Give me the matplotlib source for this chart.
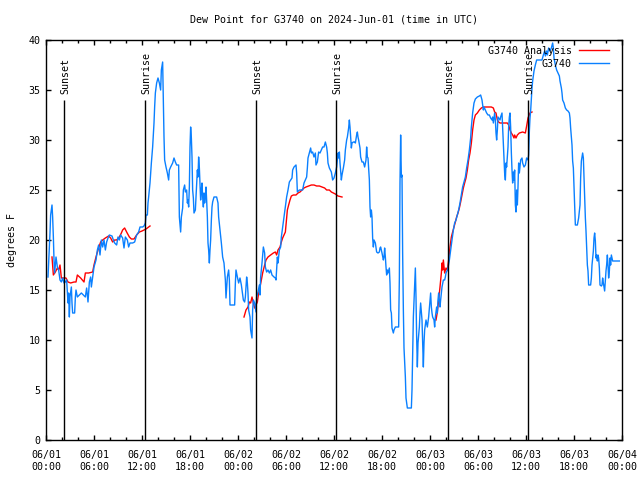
import matplotlib
matplotlib.use("Agg")
import matplotlib.pyplot as plt
import matplotlib.dates as mdates
import pandas as pd
import numpy as np

plt.rcParams['font.family'] = ['DejaVu Sans Mono']
FS = 7.2

base = pd.Timestamp("2024-06-01 00:00")

# G3740 observations: hours since 2024-06-01 00:00 UTC, dew point (F)
obs_hours = [
    0.25, 0.33, 0.5, 0.58, 0.75, 0.83, 0.92, 1.0, 1.08, 1.25, 1.42, 1.58, 1.75, 1.92, 2.08, 2.25, 2.42, 2.58,
    2.75, 2.83, 2.92, 3.0, 3.17, 3.25, 3.33, 3.58, 3.67, 3.75, 3.92, 4.17, 4.42, 4.67, 4.92, 5.08, 5.25, 5.42,
    5.58, 5.67, 5.83, 6.0, 6.25, 6.42, 6.58, 6.75, 6.92, 7.08, 7.25, 7.42, 7.58, 7.75, 7.92, 8.25, 8.42, 8.58,
    8.83, 9.0, 9.17, 9.33, 9.58, 9.75, 9.92, 10.17, 10.33, 10.5, 10.83, 11.08, 11.33, 11.58, 11.75, 12.08, 12.25,
    12.42, 12.5, 12.67, 12.75, 12.83, 13.0, 13.17, 13.33, 13.5, 13.58, 13.67, 13.83, 14.0, 14.17, 14.33, 14.42,
    14.58, 14.67, 14.75, 14.83, 15.0, 15.17, 15.33, 15.42, 15.58, 15.83, 16.0, 16.17, 16.33, 16.58, 16.67, 16.83,
    16.92, 17.08, 17.17, 17.33, 17.42, 17.58, 17.67, 17.75, 17.83, 17.92, 18.0, 18.08, 18.17, 18.25, 18.33, 18.42,
    18.5, 18.67, 18.75, 18.83, 18.92, 19.0, 19.08, 19.17, 19.25, 19.33, 19.42, 19.5, 19.58, 19.67, 19.75, 19.83,
    19.92, 20.0, 20.08, 20.17, 20.25, 20.33, 20.42, 20.5, 20.58, 20.67, 20.75, 20.83, 21.0, 21.33, 21.5, 21.58,
    21.75, 21.92, 22.08, 22.25, 22.42, 22.5, 22.67, 22.83, 22.92, 23.0, 23.58, 23.67, 23.75,
    23.92, 24.08, 24.25, 24.42, 24.5, 24.67, 24.83, 24.92, 25.08, 25.17, 25.25, 25.33, 25.5, 25.58, 25.75, 25.83,
    25.92, 26.08, 26.25, 26.33, 26.5, 26.67, 26.75, 26.83, 27.0, 27.17, 27.33, 27.42, 27.58, 27.75, 27.92, 28.08,
    28.25, 28.5, 28.67, 28.75, 28.92, 29.0, 29.17, 29.33, 29.42, 29.58, 29.75, 29.92, 30.08, 30.25, 30.42, 30.58,
    30.75, 30.83, 31.0, 31.25, 31.33, 31.42, 31.67, 31.92, 32.08, 32.25, 32.42, 32.58, 32.67, 32.75, 32.92, 33.08,
    33.17, 33.33, 33.5, 33.67, 33.75, 33.92, 34.08, 34.25, 34.42, 34.58, 34.75, 34.92, 35.08, 35.17, 35.25, 35.42,
    35.67, 35.83, 36.0, 36.17, 36.33, 36.42, 36.5, 36.58, 36.67, 36.75, 36.92, 37.0, 37.17, 37.33, 37.42, 37.58,
    37.67, 37.83, 37.92, 38.0, 38.08, 38.17, 38.25, 38.42, 38.58, 38.67, 38.83, 38.92, 39.0, 39.08, 39.25, 39.33,
    39.5, 39.67, 39.83, 40.0, 40.08, 40.17, 40.25, 40.42, 40.5, 40.58, 40.67, 40.75, 40.83, 40.92, 41.0, 41.17,
    41.33, 41.5, 41.67, 41.75, 41.83, 42.0, 42.17, 42.25, 42.33, 42.42, 42.5, 42.58, 42.67, 42.75, 42.92, 43.0,
    43.08, 43.17, 43.25, 43.42, 43.5, 43.67, 44.08, 44.17, 44.25, 44.33, 44.42, 44.5, 44.58, 44.67, 44.75, 44.92,
    45.0, 45.17, 45.67, 45.75, 45.83, 45.92, 46.08, 46.17, 46.25, 46.33, 46.42, 46.5, 46.67, 46.75, 46.83, 46.92,
    47.0, 47.08, 47.17, 47.25, 47.33, 47.5, 47.67, 47.83,
    48.0, 48.08, 48.17, 48.25, 48.33, 48.5, 48.58, 48.67, 48.83, 48.92, 49.0, 49.08, 49.25, 49.33, 49.5, 49.67,
    49.83, 49.92, 50.0, 50.17, 50.25, 50.42, 50.58, 50.75, 50.92, 51.08, 51.25, 51.42, 51.58, 51.75, 51.92, 52.08,
    52.25, 52.42, 52.58, 52.75, 52.92, 53.08, 53.17, 53.33, 53.5, 53.67, 53.92, 54.17, 54.33, 54.5, 54.67, 54.75,
    54.92, 55.08, 55.25, 55.42, 55.58, 55.75, 55.83, 55.92, 56.08, 56.17, 56.25, 56.33, 56.42, 56.5, 56.58, 56.75,
    56.83, 57.0, 57.08, 57.17, 57.25, 57.33, 57.42, 57.5, 57.58, 57.67, 57.75, 57.83, 57.92, 58.0, 58.08, 58.17,
    58.25, 58.33, 58.42, 58.5, 58.58, 58.67, 58.75, 58.83, 58.92, 59.0, 59.08, 59.17, 59.25, 59.33, 59.5, 59.58,
    59.75, 59.92,
    60.08, 60.25, 60.33, 60.42, 60.5, 60.58, 60.67, 60.75, 60.83, 61.0, 61.17, 61.33, 61.5, 61.75, 62.0, 62.17,
    62.33, 62.42, 62.58, 62.67, 62.83, 63.0, 63.17, 63.33, 63.42, 63.5, 63.67, 63.83, 64.0, 64.17, 64.25, 64.42,
    64.5, 64.58, 64.75, 64.92, 65.08, 65.25, 65.42, 65.5, 65.58, 65.75, 65.83, 65.92, 66.0, 66.08, 66.17, 66.42,
    66.58, 66.75, 66.83, 66.92, 67.0, 67.08, 67.17, 67.25, 67.33, 67.42, 67.5, 67.58, 67.67, 67.75, 67.83, 68.08,
    68.17, 68.25, 68.42, 68.5, 68.58, 68.67, 68.75, 68.83, 68.92, 69.0, 69.08, 69.17, 69.25, 69.42, 69.5, 69.58,
    69.67, 69.83, 69.92, 70.0, 70.08, 70.17, 70.25, 70.33, 70.42, 70.5, 70.58, 70.67, 70.83, 71.08, 71.67,
]
obs_values = [
    16.3, 17.7, 20.7, 22.5, 23.5, 22.3, 20.3, 18, 16.7, 18.3, 17.3, 17, 16, 15.8, 16.2, 15.7, 15.8, 16,
    13.7, 14.7, 12.3, 14.3, 15.3, 13.7, 12.7, 12.7, 14.3, 15, 14.3, 14.5, 14.7, 14.5, 14.3, 15.2, 13.8, 15.8,
    16.3, 15.3, 16.3, 17.3, 18, 19, 19.5, 18.5, 20, 19.3, 20, 19, 19.8, 20.2, 20.5, 20.4, 20, 19.7,
    19.5, 20.3, 20, 20.5, 20.2, 19.2, 20.3, 20, 19.3, 19.7, 19.7, 19.8, 20.5, 20.8, 21.3, 21.3, 21.4,
    21.7, 22.5, 22.5, 23.7, 24.3, 25.7, 27.7, 29.3, 31.7, 33.3, 34.7, 35.7, 36.2, 35.7, 35, 37,
    37.8, 34, 30.3, 28, 27.3, 26.7, 26, 27, 27.3, 27.7, 28.2, 27.8, 27.5, 27.5, 22.3, 20.8,
    22.3, 23.2, 25, 25.5, 24.8, 25, 23.7, 24, 23.3, 25.3, 29.3, 31.3, 30.2, 28.3, 25, 24.2,
    22.7, 23, 24.3, 25.7, 27, 26.3, 28.3, 27.2, 25.7, 24, 25, 25.7, 24.3, 23.3, 24.7, 23.7,
    24.3, 25.3, 24, 22.3, 19.7, 19, 17.7, 19, 20, 22, 23.3, 23.8, 24.3, 24.3, 23.7, 22.3,
    21, 19.7, 18.3, 17.7, 16, 14.2, 16.3, 17, 16, 13.5, 13.5, 15.7, 17,
    16.3, 15.7, 16.2, 15.5, 15, 14, 13.8, 14.3, 16.3, 15.7, 14.7, 13, 12.3, 11, 10.2, 13,
    14, 13.7, 12.8, 14.3, 14.8, 15.5, 14.5, 16.3, 17.7, 19.3, 18.7, 17.3, 16.8, 17, 16.7, 17,
    16.5, 16.3, 16.2, 16, 18.3, 17.7, 19, 19.3, 20.3, 21.3, 22.3, 23.3, 24.3, 25, 25.8, 26,
    26.2, 27, 27.3, 27.5, 26.7, 24.8, 25, 25, 25, 25.7, 26, 26.3, 27.2, 28.2, 28.7, 29.2,
    28.7, 28.8, 28.3, 28.7, 27.5, 27.8, 28.8, 28.7, 29, 29.3, 29.3, 29.8, 29.3, 28.7, 27.7, 27.2,
    26.8, 26, 26.2, 26.7, 27.3, 28, 28.7, 28.2, 28.8, 27.7, 26, 26.5, 27.2, 28, 29, 30,
    30.3, 31.2, 32, 31.3, 30.3, 29.2, 29.7, 29.8, 29.8, 29.7, 30.5, 30.8, 30.3, 30, 29.2, 28.3,
    27.8, 27.8, 27.3, 28, 29.3, 28.3, 28.2, 26, 23.3, 22.3, 23, 22.3, 20.2, 19.3, 20, 19.7,
    18.8, 18.7, 18.8, 19.2, 19.3, 18.7, 18, 18.3, 19.2, 18.3, 17.3, 16.5, 17, 16.7, 17.2, 15.7,
    13, 12.7, 11.2, 10.7, 11, 11.3, 11.3, 16.2, 25.7, 30.5, 26.3, 26.5, 18.7, 13, 9.2, 6.3,
    4.2, 3.2, 3.2, 5, 8.7, 12.3, 15.5, 17.2, 14.3, 10.3, 7.3, 9.7, 11.3, 12.7, 13.7, 12.8,
    12, 9.7, 7.3, 9.7, 11, 12, 11.3, 12.3,
    14, 14.7, 13.3, 12.7, 12.3, 12, 11.3, 12.3, 13.3, 12.7, 14, 14.7, 13.3, 14, 15.3, 16,
    16, 16.3, 16.7, 17, 17.2, 18, 19, 20, 21, 21.7, 22, 22.5, 23, 23.7, 24.5, 25.3,
    25.8, 26.3, 27.2, 28, 29, 30.2, 31.3, 32.7, 33.7, 34.1, 34.3, 34.4, 34.5, 34, 33, 33.3,
    33, 32.7, 32.5, 32.5, 32.2, 32, 32.3, 31.7, 32.7, 32, 30.7, 30, 31, 32.3, 32.2, 32,
    32.3, 32.7, 31.3, 29.7, 28.3, 26.7, 26, 27.7, 27.3, 28.3, 29.3, 31.3, 32.3, 32.7, 31.3, 28.7,
    27, 25.7, 26.8, 26, 27, 23.5, 22.8, 25, 23.5, 25.3, 27.7, 26.7, 27.3, 28, 28.2, 27.7,
    27.3, 27.5,
    28.2, 28, 28.5, 30.9, 32.2, 32.9, 34.2, 35.2, 35.9, 36.9, 37.5, 38, 38, 38, 38, 38.5,
    38.9, 38.4, 38.9, 38.5, 39.2, 38.9, 39.2, 39.7, 39.2, 38.2, 37.5, 37, 36.7, 36.4, 35.9, 35.2,
    34.7, 34, 33.7, 33.2, 33, 32.9, 32.7, 32.2, 31.2, 29.5, 27.9, 27.2, 25.2, 23.5, 21.5, 21.5,
    22.2, 23.5, 26.2, 27.9, 28.3, 28.7, 28.2, 26.2, 24.2, 22.2, 20.9, 19.2, 17.5, 16.9, 15.5, 15.5,
    16.2, 17.5, 18.9, 20.2, 20.7, 19.9, 18.2, 18.5, 17.9, 18.5, 18.2, 17.2, 15.5, 15.4, 15.5, 16.2,
    15.7, 14.9, 15.9, 16.9, 17.5, 18.5, 17.5, 16.2, 16.9, 18.2, 17.5, 18.5, 17.9, 17.9, 17.9,
]

# G3740 Analysis (three separate runs)
ana1_hours = [0.75, 0.92, 1.17, 1.42, 1.58, 1.75, 1.92, 2.17, 2.5, 2.75, 3.08, 3.5, 3.75, 3.92, 4.33, 4.75,
              4.92, 5.33, 5.83, 6.0, 6.25, 6.5, 6.83, 7.08, 7.42, 7.83, 8.08, 8.33, 8.58, 8.83, 9.17, 9.42,
              9.58, 9.83, 10.08, 10.42, 10.67, 11.0, 11.33, 11.67, 12.0, 12.25, 12.5, 13.0]
ana1_values = [18.3, 16.5, 16.8, 17.2, 17, 17.5, 16.2, 16.2, 16.2, 15.8, 15.7, 15.8, 15.8, 16.5, 16.2, 15.8,
               16.7, 16.7, 16.8, 17.5, 18.3, 19, 19.8, 20, 20.2, 20.4, 20.2, 19.8, 20, 20, 20.3, 20.7,
               21, 21.2, 20.8, 20.3, 20.1, 20.1, 20.5, 20.8, 20.9, 21, 21.1, 21.4]
ana2_hours = [24.75, 25.0, 25.25, 25.42, 25.58, 25.75, 25.92, 26.08, 26.25, 26.42, 26.58, 26.75, 26.92, 27.08,
              27.33, 27.5, 27.75, 28.08, 28.42, 28.67, 28.83, 29.0, 29.25, 29.42, 29.58, 29.75, 29.92, 30.0,
              30.08, 30.17, 30.33, 30.5, 30.67, 30.92, 31.25, 31.5, 31.75, 32.0, 32.25, 32.5, 32.83, 33.17,
              33.5, 33.83, 34.17, 34.5, 34.83, 35.08, 35.42, 35.67, 35.92, 36.17, 36.5, 37.0]
ana2_values = [12.3, 13, 13.3, 13.8, 13.7, 14.3, 13.7, 13.2, 13.5, 13.8, 14.7, 15.3, 16, 16.7,
               17.5, 18, 18.3, 18.5, 18.7, 18.8, 18.5, 19, 19.3, 19.8, 20.2, 20.5, 20.8, 21.5,
               22.2, 23, 23.5, 24, 24.4, 24.5, 24.5, 24.7, 24.8, 25, 25.2, 25.3, 25.4, 25.5,
               25.5, 25.4, 25.4, 25.3, 25.2, 25, 25, 24.8, 24.7, 24.6, 24.4, 24.3]
ana3_hours = [48.75, 48.92, 49.08, 49.25, 49.42, 49.5, 49.58, 49.67, 49.83, 50.0, 50.17, 50.33, 50.5, 50.67,
              50.83, 51.0, 51.17, 51.33, 51.5, 51.67, 51.83, 52.0, 52.17, 52.33, 52.5, 52.67, 52.83, 53.0,
              53.17, 53.33, 53.5, 53.67, 53.92, 54.17, 54.42, 54.67, 55.0, 55.33, 55.67, 55.92, 56.08, 56.25,
              56.42, 56.58, 56.75, 57.08, 57.42, 57.67, 57.83, 58.0, 58.17, 58.33, 58.5, 58.58, 58.75, 58.92,
              59.17, 59.58, 59.92, 60.08, 60.25, 60.5, 60.75]
ana3_values = [12, 12.8, 14, 15.3, 16.7, 17.7, 17, 18, 16.7, 17.2, 17, 18, 19.3, 20.3,
               20.8, 21.3, 21.8, 22.3, 22.7, 23.2, 23.8, 24.5, 25.2, 25.7, 26.2, 27, 28, 28.7,
               29.7, 31, 32, 32.5, 32.7, 33, 33.2, 33.3, 33.3, 33.3, 33.3, 33.2, 32.8, 32.7,
               32, 31.8, 31.7, 31.7, 31.7, 31.7, 31.5, 31, 30.7, 30.5, 30.2, 30.5, 30.2, 30.5,
               30.7, 30.8, 30.7, 31.4, 32.2, 32.7, 32.8]

sun_hours = [2.3, 12.4, 26.3, 36.3, 50.3, 60.3]
sun_labels = ["Sunset", "Sunrise", "Sunset", "Sunrise", "Sunset", "Sunrise"]


def to_time(hours):
    return base + pd.to_timedelta(np.asarray(hours, dtype=float), unit="h")


RED = "#ff0000"
BLUE = "#0a80ff"

fig = plt.figure(figsize=(6.4, 4.8), dpi=100)
ax = fig.add_axes([46 / 640, 1 - 440 / 480, (622 - 46) / 640, 400 / 480])

for i, (hh, vv) in enumerate([(ana1_hours, ana1_values), (ana2_hours, ana2_values), (ana3_hours, ana3_values)]):
    ax.plot(to_time(hh), vv, color=RED, lw=1.0, label="G3740 Analysis" if i == 0 else None)
ax.plot(to_time(obs_hours), obs_values, color=BLUE, lw=1.0, label="G3740")

sun_t = to_time(sun_hours)
ax.vlines(sun_t, 0, 34, color="black", lw=1.0)
for t, lab in zip(sun_t, sun_labels):
    ax.text(t + pd.Timedelta(minutes=10), 34.6, lab, rotation=90, ha="center", va="bottom", fontsize=FS)

ax.set_xlim(base, base + pd.Timedelta(hours=72))
ax.set_ylim(0, 40)
ax.set_yticks(np.arange(0, 41, 5))
ax.xaxis.set_major_locator(mdates.HourLocator(byhour=[0, 6, 12, 18]))
ax.xaxis.set_minor_locator(mdates.HourLocator(byhour=range(0, 24, 2)))
ax.xaxis.set_major_formatter(mdates.DateFormatter("%m/%d\n%H:%M"))
ax.tick_params(axis="both", which="both", direction="in", top=True, right=True, labelsize=FS, width=1.0)
ax.tick_params(axis="both", which="major", length=3.5)
ax.tick_params(axis="both", which="minor", length=2.0)
ax.tick_params(axis="x", pad=7.5)
ax.tick_params(axis="y", pad=4)
for lbl in ax.get_xticklabels():
    lbl.set_linespacing(1.25)
for s in ax.spines.values():
    s.set_linewidth(1.0)

ax.set_title("Dew Point for G3740 on 2024-Jun-01 (time in UTC)", fontsize=FS, pad=12.5)
ax.set_ylabel("degrees F", fontsize=FS, labelpad=8)

ax.legend(loc="upper right", frameon=False, markerfirst=False, fontsize=FS,
          handlelength=3.0, handletextpad=0.7, labelspacing=0.3, borderaxespad=0.3,
          borderpad=0.3, bbox_to_anchor=(1 - 7 / 576, 1))

fig.savefig("out.png", dpi=100)
